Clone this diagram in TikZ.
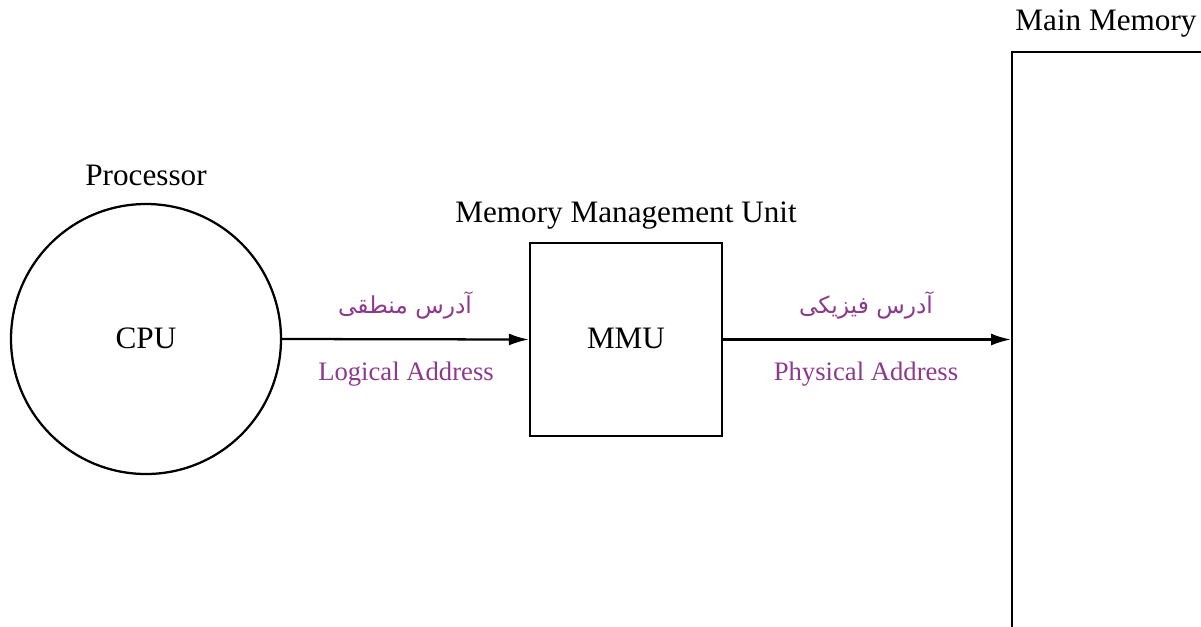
\documentclass[tikz,border=0pt]{standalone}
\usepackage{fontspec}
\setmainfont{Liberation Serif}
\newfontfamily\fafont[Script=Arabic]{DejaVu Sans}
\TeXXeTstate=1
\usetikzlibrary{arrows.meta}
\definecolor{addrpurple}{RGB}{140,58,140}
\begin{document}
\begin{tikzpicture}[x=0.75pt,y=-0.75pt,
  line width=1.7pt,
  title/.style={font=\fontsize{23.4}{26}\selectfont, inner sep=0pt},
  inlabel/.style={font=\fontsize{23.4}{26}\selectfont, inner sep=0pt},
  addr/.style={font=\fontsize{20}{24}\selectfont, text=addrpurple, inner sep=0pt},
  faaddr/.style={font=\fafont\fontsize{17.5}{21}\selectfont, text=addrpurple, inner sep=0pt},
  link/.style={-{Latex[length=15pt,width=9pt]}}]
\useasboundingbox (0,0) rectangle (1201,626);
\clip (0,0) rectangle (1201,626);

% processor
\node (cpu) [draw, circle, minimum size=270*0.75pt, inner sep=0pt] at (146,339) {};
\node [inlabel] at (146,338) {CPU};
\node (proc) [title] at (146,175) {Processor};

% memory management unit
\node (mmu) [draw, rectangle, minimum width=192*0.75pt, minimum height=193*0.75pt, inner sep=0pt] at (626,339.5) {};
\node [inlabel] at (626,338) {MMU};
\node (mmut) [title] at (626,216) {Memory Management Unit};

% main memory, running off the page
\node (mem) [draw, rectangle, minimum width=300*0.75pt, minimum height=700*0.75pt, inner sep=0pt, anchor=north west] at (1011,51) {};
\node (memt) [title] at (1106,24) {Main Memory};

% address paths
\draw[link] (cpu.east) -- (mmu.west);
\draw[link] (mmu.east) -- (mmu.east -| mem.west);

\node (la-fa) [faaddr] at (405,305) {\beginR آدرس منطقی\endR};
\node (la) [addr] at (406,374) {Logical Address};
\node (pa-fa) [faaddr] at (866,305) {\beginR آدرس فیزیکی\endR};
\node (pa) [addr] at (866,374) {Physical Address};
\end{tikzpicture}
\end{document}
